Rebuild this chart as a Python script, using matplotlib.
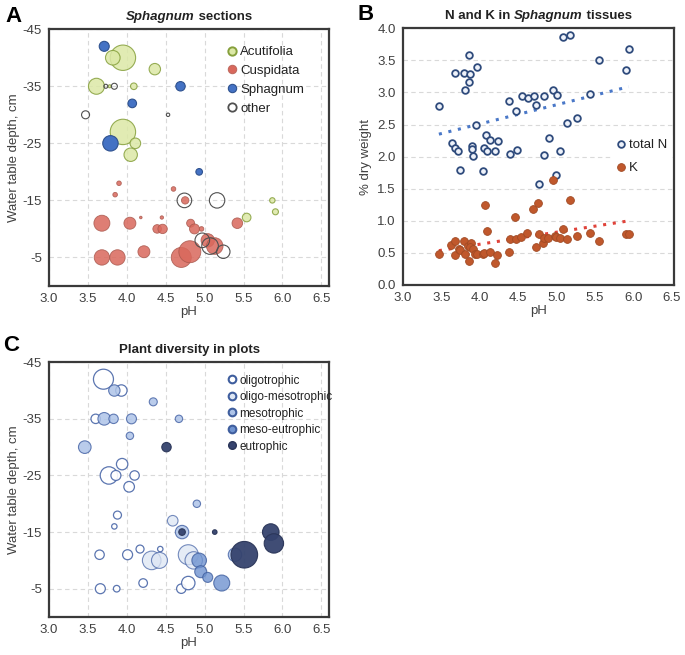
import numpy as np
import matplotlib
matplotlib.use("Agg")
import matplotlib.pyplot as plt
from matplotlib.lines import Line2D
from matplotlib.offsetbox import TextArea, HPacker, AnchoredOffsetbox

plt.rcParams['font.family'] = ['Liberation Sans', 'DejaVu Sans']
plt.rcParams['axes.unicode_minus'] = False

# ---- panel A: Sphagnum sections (pH, water table depth, bubble size)
acu_ph = [3.95, 3.82, 4.36, 3.61, 4.09, 3.78, 3.95, 4.11, 4.05, 5.54, 5.87, 5.91]
acu_wt = [-40, -40, -38, -35, -35, -35, -27, -25, -23, -12, -15, -13]
acu_sz = [12.7, 7.3, 5.7, 8.0, 3.3, 1.5, 12.7, 5.3, 6.7, 4.3, 2.7, 3.0]

sph_ph = [3.71, 4.69, 4.07, 3.79, 4.93]
sph_wt = [-42, -35, -32, -25, -20]
sph_sz = [5.0, 4.7, 4.3, 7.7, 3.3]

oth_ph = [3.47, 4.53, 3.73, 3.84, 4.74, 5.16, 4.97, 5.07, 5.24]
oth_wt = [-30, -30, -35, -35, -15, -15, -8, -7, -6]
oth_sz = [4.0, 1.7, 2.0, 3.0, 7.3, 7.7, 7.3, 8.3, 6.7]

cus_ph = [3.90, 3.85, 4.60, 4.75, 3.68, 4.04, 4.18, 4.45, 4.39, 4.46, 4.82, 4.87,
          4.96, 5.42, 3.68, 3.88, 4.22, 4.70, 4.81, 5.04, 5.13]
cus_wt = [-18, -16, -17, -15, -11, -11, -12, -12, -10, -10, -11, -10,
          -10, -11, -5, -5, -6, -5, -6, -8, -7]
cus_sz = [2.3, 2.3, 2.3, 3.7, 8.0, 6.0, 1.3, 1.7, 4.3, 4.7, 4.0, 5.0,
          2.3, 5.3, 7.7, 7.7, 6.0, 10.0, 11.0, 6.7, 8.3]

# ---- panel B: N and K in Sphagnum tissues
n_ph = [3.47, 3.68, 3.80, 3.87, 3.86, 3.81, 3.86, 3.96, 3.95, 3.64, 3.68, 3.72,
        3.75, 3.90, 3.90, 3.92, 4.08, 4.13, 4.06, 4.10, 4.24, 4.20, 4.05, 4.38,
        4.47, 4.55, 4.63, 4.71, 4.74, 4.40, 4.48, 4.84, 4.95, 5.01, 5.09, 5.18,
        5.14, 5.27, 4.84, 4.90, 5.04, 4.99, 4.77, 5.55, 5.44, 5.91, 5.94]
n_val = [2.79, 3.30, 3.30, 3.28, 3.16, 3.04, 3.59, 3.39, 2.50, 2.21, 2.13, 2.08,
         1.79, 2.17, 2.12, 2.01, 2.33, 2.26, 2.13, 2.08, 2.25, 2.08, 1.77, 2.87,
         2.71, 2.95, 2.91, 2.95, 2.81, 2.04, 2.10, 2.95, 3.04, 2.96, 3.87, 3.89,
         2.52, 2.60, 2.02, 2.29, 2.09, 1.72, 1.57, 3.50, 2.98, 3.35, 3.67]

k_ph = [3.47, 3.63, 3.68, 3.68, 3.73, 3.74, 3.80, 3.81, 3.85, 3.89, 3.88, 3.91,
        3.86, 3.94, 3.96, 4.04, 4.06, 4.07, 4.10, 4.13, 4.20, 4.23, 4.38, 4.40,
        4.46, 4.47, 4.54, 4.62, 4.70, 4.73, 4.76, 4.77, 4.83, 4.84, 4.89, 4.95,
        4.98, 5.00, 5.04, 5.09, 5.14, 5.17, 5.27, 5.44, 5.55, 5.90, 5.94]
k_val = [0.49, 0.63, 0.69, 0.46, 0.56, 0.55, 0.69, 0.49, 0.60, 0.65, 0.59, 0.56,
         0.38, 0.48, 0.49, 0.48, 0.50, 1.24, 0.84, 0.51, 0.35, 0.47, 0.51, 0.72,
         1.06, 0.72, 0.75, 0.81, 1.18, 0.59, 1.28, 0.79, 0.65, 0.73, 0.73, 1.63,
         0.77, 0.75, 0.73, 0.88, 0.71, 1.33, 0.77, 0.81, 0.68, 0.79, 0.80]

# ---- panel C: plant diversity in plots
oli_ph = [3.70, 3.93, 3.60, 3.94, 3.77, 3.86, 4.10, 4.03, 3.88, 3.84, 3.65, 4.01,
          4.17, 4.43, 3.66, 3.87, 4.21, 4.70, 4.79]
oli_wt = [-42, -40, -35, -27, -25, -25, -25, -23, -18, -16, -11, -11,
          -12, -12, -5, -5, -6, -5, -6]
oli_sz = [10.0, 5.7, 4.7, 5.7, 8.7, 5.0, 4.7, 5.3, 4.0, 2.7, 4.7, 5.0,
          4.0, 2.7, 5.0, 3.3, 4.3, 4.7, 6.7]

olm_ph = [4.32, 4.42, 4.59, 4.79, 4.86]
olm_wt = [-10, -10, -17, -11, -10]
olm_sz = [9.3, 8.0, 5.3, 10.0, 8.7]

mes_ph = [3.84, 3.71, 3.83, 4.06, 4.34, 4.67, 4.04, 3.46, 4.90, 4.71, 5.39]
mes_wt = [-40, -35, -35, -35, -38, -35, -32, -30, -20, -15, -11]
mes_sz = [5.7, 6.3, 4.7, 5.0, 4.0, 3.7, 3.7, 6.3, 3.7, 6.7, 6.7]

mee_ph = [4.93, 4.95, 5.04, 5.22]
mee_wt = [-10, -8, -7, -6]
mee_sz = [7.3, 6.0, 5.0, 8.0]

eut_ph = [4.51, 4.71, 5.13, 5.51, 5.85, 5.89]
eut_wt = [-30, -15, -15, -11, -15, -13]
eut_sz = [4.7, 3.3, 2.3, 13.3, 8.3, 9.7]

TXT = '#404040'


def bubble(sz):
    # bubble radius (px) -> marker area (pt^2)
    return (2 * np.array(sz) * 0.72) ** 2


def frame(ax, grid_x=True):
    for sp in ax.spines.values():
        sp.set_color('#3a3a3a')
        sp.set_linewidth(1.6)
    ax.tick_params(length=0, labelsize=9.5, labelcolor=TXT, pad=5)
    ax.set_axisbelow(True)
    ax.grid(axis='y', color='#d9d9d9', ls=(0, (4, 3)), lw=0.8)
    if grid_x:
        ax.grid(axis='x', color='#d9d9d9', ls=(0, (4, 3)), lw=0.8)


def depth_axes(ax):
    ax.set_xlim(3.0, 6.6)
    ax.set_ylim(0, -45)
    ax.set_xticks(np.arange(3.0, 6.51, 0.5))
    ax.set_xticklabels(['%.1f' % v for v in np.arange(3.0, 6.51, 0.5)])
    ax.set_yticks([-45, -35, -25, -15, -5])
    ax.set_xlabel('pH', fontsize=9.5, color=TXT, labelpad=1)
    ax.set_ylabel('Water table depth, cm', fontsize=9.5, color=TXT, labelpad=2)


def title(ax, parts):
    # mixed italic / upright bold title
    boxes = [TextArea(t, textprops=dict(fontsize=9.5, fontweight='bold', color='#222222',
                                         style=('italic' if it else 'normal')))
             for t, it in parts]
    box = HPacker(children=boxes, align='baseline', pad=0, sep=0)
    ab = AnchoredOffsetbox(loc='lower center', child=box, frameon=False, pad=0,
                           bbox_to_anchor=(0.5, 1.025), bbox_transform=ax.transAxes, borderpad=0)
    ax.add_artist(ab)


fig = plt.figure(figsize=(6.85, 6.55), dpi=100)

# ---------------- A
axA = fig.add_axes([0.0715, 0.5634, 0.409, 0.392])
frame(axA)
depth_axes(axA)
axA.scatter(acu_ph, acu_wt, s=bubble(acu_sz), c='#dce8a6', edgecolors='#86a03c', linewidths=0.8, alpha=0.85, zorder=3)
axA.scatter(cus_ph, cus_wt, s=bubble(cus_sz), c='#d9685c', edgecolors='#a8574c', linewidths=0.6, alpha=0.85, zorder=3)
axA.scatter(sph_ph, sph_wt, s=bubble(sph_sz), c='#4472c4', edgecolors='#2f528f', linewidths=0.8, zorder=4)
axA.scatter(oth_ph, oth_wt, s=bubble(oth_sz), facecolors='none', edgecolors='#505050', linewidths=0.8, zorder=5)
title(axA, [('Sphagnum', True), (' sections', False)])
hA = [Line2D([], [], ls='', marker='o', ms=6, mfc='#dce8a6', mec='#86a03c', mew=1.4),
      Line2D([], [], ls='', marker='o', ms=6, mfc='#d9685c', mec='#c06a60', mew=0.8),
      Line2D([], [], ls='', marker='o', ms=6, mfc='#4472c4', mec='#2f528f', mew=0.8),
      Line2D([], [], ls='', marker='o', ms=6, mfc='white', mec='#505050', mew=1.3)]
axA.legend(hA, ['Acutifolia', 'Cuspidata', 'Sphagnum', 'other'], loc='upper left',
           bbox_to_anchor=(0.61, 0.955), frameon=False, fontsize=9.5, handletextpad=0.15,
           labelspacing=0.5, borderaxespad=0, handlelength=1.0, labelcolor='#222222')

# ---------------- B
axB = fig.add_axes([0.588, 0.5649, 0.396, 0.392])
frame(axB, grid_x=False)
axB.set_xlim(3.0, 6.53)
axB.set_ylim(0, 4.0)
axB.set_xticks(np.arange(3.0, 6.51, 0.5))
axB.set_xticklabels(['%.1f' % v for v in np.arange(3.0, 6.51, 0.5)])
axB.set_yticks(np.arange(0, 4.01, 0.5))
axB.set_yticklabels(['%.1f' % v for v in np.arange(0, 4.01, 0.5)])
axB.set_xlabel('pH', fontsize=9.5, color=TXT, labelpad=1)
axB.set_ylabel('% dry weight', fontsize=9.5, color=TXT, labelpad=4)
axB.plot(n_ph, n_val, ls='', marker='o', ms=4.8, mfc='#eef2fa', mec='#2f4b7c', mew=1.3, zorder=4, label='total N')
axB.plot(k_ph, k_val, ls='', marker='o', ms=5.6, mfc='#c0582c', mec='#a04a24', mew=0.6, zorder=4, label='K')
for xs, ys, col in [(n_ph, n_val, '#4a78c8'), (k_ph, k_val, '#e0433a')]:
    p = np.polyfit(xs, ys, 1)
    xx = np.array([min(xs), max(xs)])
    axB.plot(xx, np.polyval(p, xx), ls=(0, (1, 2.2)), lw=2.2, color=col, zorder=3)
title(axB, [('N and K in ', False), ('Sphagnum', True), (' tissues', False)])
lgB = axB.legend(loc='center right', bbox_to_anchor=(0.99, 0.50), frameon=True, fontsize=9.5,
                 handletextpad=0.1, labelspacing=0.8, borderaxespad=0, handlelength=1.0,
                 borderpad=0.3, labelcolor='#222222', fancybox=False)
lgB.get_frame().set_edgecolor('white')
lgB.get_frame().set_facecolor('white')
lgB.get_frame().set_alpha(1)

# ---------------- C
axC = fig.add_axes([0.0715, 0.058, 0.409, 0.389])
frame(axC)
depth_axes(axC)
axC.scatter(oli_ph, oli_wt, s=bubble(oli_sz), facecolors='white', edgecolors='#4a67a8', linewidths=0.9, alpha=0.9, zorder=3)
axC.scatter(olm_ph, olm_wt, s=bubble(olm_sz), c='#dde6f4', edgecolors='#4a67a8', linewidths=0.8, alpha=0.75, zorder=3)
axC.scatter(mes_ph, mes_wt, s=bubble(mes_sz), c='#aec4e8', edgecolors='#4a67a8', linewidths=0.8, alpha=0.85, zorder=4)
axC.scatter(mee_ph, mee_wt, s=bubble(mee_sz), c='#6f93d0', edgecolors='#3f5e9e', linewidths=0.8, alpha=0.8, zorder=4)
axC.scatter(eut_ph, eut_wt, s=bubble(eut_sz), c='#35436e', edgecolors='#2a3558', linewidths=0.8, alpha=0.95, zorder=5)
title(axC, [('Plant diversity in plots', False)])
hC = [Line2D([], [], ls='', marker='o', ms=5.5, mfc='white', mec='#3f5e9e', mew=1.5),
      Line2D([], [], ls='', marker='o', ms=5.5, mfc='#dde6f4', mec='#3f5e9e', mew=1.5),
      Line2D([], [], ls='', marker='o', ms=5.5, mfc='#aec4e8', mec='#3f5e9e', mew=1.5),
      Line2D([], [], ls='', marker='o', ms=5.5, mfc='#6f93d0', mec='#3f5e9e', mew=1.5),
      Line2D([], [], ls='', marker='o', ms=5.5, mfc='#35436e', mec='#2a3558', mew=1.0)]
axC.legend(hC, ['oligotrophic', 'oligo-mesotrophic', 'mesotrophic', 'meso-eutrophic', 'eutrophic'],
           loc='upper left', bbox_to_anchor=(0.615, 0.97), frameon=False, fontsize=8.5,
           handletextpad=0.15, labelspacing=0.38, borderaxespad=0, handlelength=1.0,
           labelcolor='#222222')

# panel letters
fig.text(0.008, 0.975, 'A', fontsize=16, fontweight='bold', va='center', ha='left')
fig.text(0.522, 0.978, 'B', fontsize=16, fontweight='bold', va='center', ha='left')
fig.text(0.005, 0.472, 'C', fontsize=16, fontweight='bold', va='center', ha='left')

fig.savefig('out.png', dpi=100, facecolor='white')
